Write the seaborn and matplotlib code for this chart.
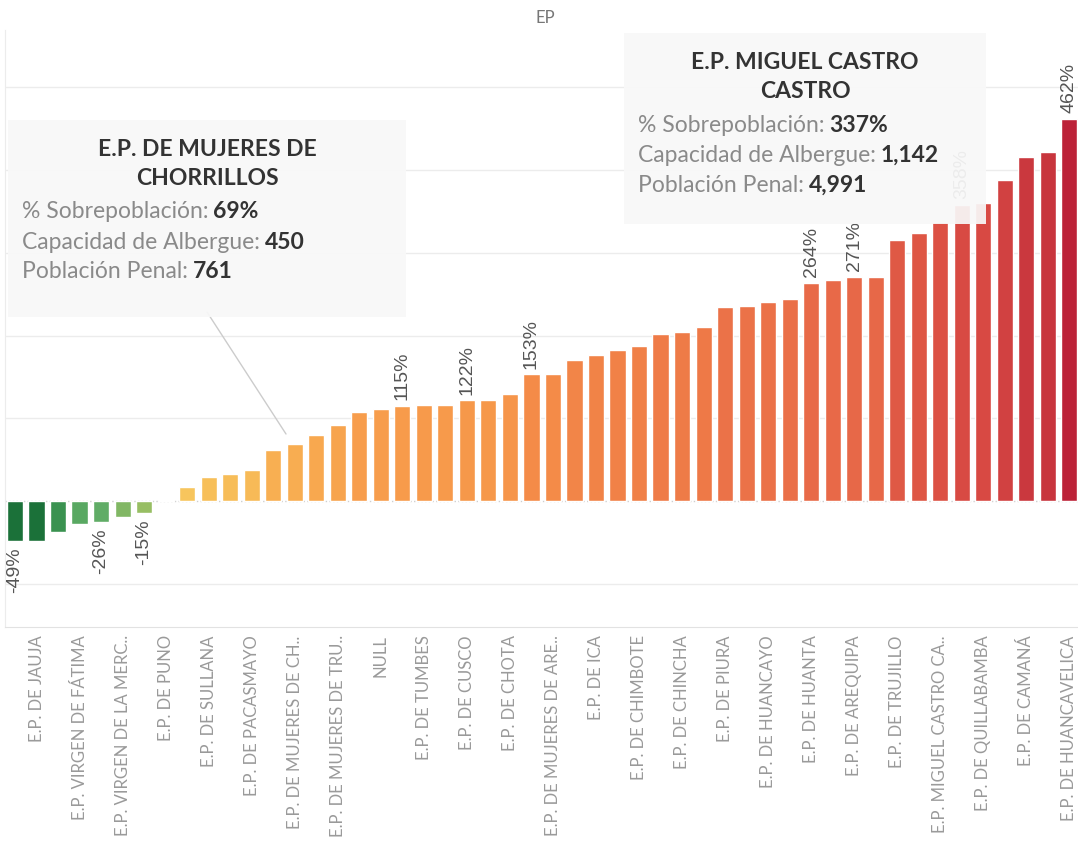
import numpy as np
import pandas as pd
import matplotlib
matplotlib.use('Agg')
import matplotlib.pyplot as plt
import seaborn as sns
from matplotlib.colors import LinearSegmentedColormap, Normalize
from matplotlib.patches import Rectangle

# ============================================================
# DATOS: % Sobrepoblacion por establecimiento penitenciario (ordenado)
# ============================================================
sobrepoblacion = [-49, -49, -38, -28, -26, -19, -15, 1, 17, 29,
                  33, 38, 62, 69, 80, 92, 108, 111, 115, 116,
                  116, 122, 122, 129, 153, 153, 171, 177, 182, 187,
                  202, 204, 210, 234, 236, 241, 244, 264, 267, 271,
                  271, 315, 324, 337, 358, 360, 388, 416, 422, 462]

# etiquetas visibles del eje x (una de cada dos barras)
etiquetas = ["E.P. DE JAUJA", "E.P. VIRGEN DE FÁTIMA", "E.P. VIRGEN DE LA MERC..",
             "E.P. DE PUNO", "E.P. DE SULLANA", "E.P. DE PACASMAYO",
             "E.P. DE MUJERES DE CH..", "E.P. DE MUJERES DE TRU..", "NULL",
             "E.P. DE TUMBES", "E.P. DE CUSCO", "E.P. DE CHOTA",
             "E.P. DE MUJERES DE ARE..", "E.P. DE ICA", "E.P. DE CHIMBOTE",
             "E.P. DE CHINCHA", "E.P. DE PIURA", "E.P. DE HUANCAYO",
             "E.P. DE HUANTA", "E.P. DE AREQUIPA", "E.P. DE TRUJILLO",
             "E.P. MIGUEL CASTRO CA..", "E.P. DE QUILLABAMBA", "E.P. DE CAMANÁ",
             "E.P. DE HUANCAVELICA"]

# barras con etiqueta de valor
barras_etiquetadas = [0, 4, 6, 18, 21, 24, 37, 39, 44, 49]

# tooltips
tip_nombres = ["E.P. DE MUJERES DE\nCHORRILLOS", "E.P. MIGUEL CASTRO\nCASTRO"]
tip_sobre = [69, 337]
tip_capacidad = [450, 1142]
tip_poblacion = [761, 4991]

W, H = 1078, 841

# escala de color divergente verde -> dorado -> rojo
nodos = [(-50, "#1b7139"), (-38, "#3a9250"), (-26, "#5fac66"), (-15, "#9cc063"),
         (0, "#f9d27a"), (17, "#f7c45c"), (60, "#f8b052"), (115, "#f79b4b"),
         (150, "#f48c48"), (200, "#ef7c47"), (265, "#e86a48"), (330, "#dd5444"),
         (360, "#d84a43"), (420, "#c9373e"), (462, "#bc2238")]
vmin, vmax = nodos[0][0], nodos[-1][0]
cmap = LinearSegmentedColormap.from_list(
    "rgg", [((v - vmin) / (vmax - vmin), c) for v, c in nodos])
norm = Normalize(vmin, vmax)

ids = [f"b{i}" for i in range(len(sobrepoblacion))]
df = pd.DataFrame({"id": ids, "valor": sobrepoblacion})
paleta = {k: cmap(norm(v)) for k, v in zip(ids, sobrepoblacion)}

sns.set_style("white")
plt.rcParams['font.family'] = ['Lato', 'DejaVu Sans']

fig = plt.figure(figsize=(W / 100, H / 100), dpi=100)
ax = fig.add_axes([5 / W, (H - 627) / H, (W - 5) / W, (627 - 30) / H])

sns.barplot(data=df, x="id", y="valor", hue="id", palette=paleta, legend=False,
            width=0.75, saturation=1, ax=ax, zorder=3)

ax.set_xlim(-0.465, 49.4)
ax.set_ylim(-152.4, 569.5)
ax.set_yticks([-100, 100, 200, 300, 400, 500])
ax.set_yticklabels([])
ax.grid(axis="y", color="#ececec", lw=1, zorder=0)
ax.axhline(0, color="#cfcfcf", ls=":", lw=1, zorder=2)
ax.tick_params(axis="both", length=0)
ax.set_xlabel("")
ax.set_ylabel("")

ax.set_xticks(range(1, 50, 2))
ax.set_xticklabels(etiquetas, rotation=90, ha="center", va="top",
                   color="#9a9a9a", fontsize=12)
ax.tick_params(axis="x", pad=6)

for s in ["top", "right"]:
    ax.spines[s].set_visible(False)
ax.spines["left"].set_color("#ececec")
ax.spines["bottom"].set_color("#e2e2e2")

# etiquetas de valor
for i in barras_etiquetadas:
    v = sobrepoblacion[i]
    ax.annotate(f"{v}%", (i, v), xytext=(0, 4 if v > 0 else -4),
                textcoords="offset points", rotation=90, ha="center",
                va="bottom" if v > 0 else "top", color="#555555",
                fontsize=14, family="Liberation Sans", zorder=4)

fig.text(545 / W, 1 - 18 / H, "EP", ha="center", va="center",
         color="#777777", fontsize=12)


def px(x, y):
    return x / W, 1 - y / H


# linea del tooltip de Chorrillos hacia su barra
fig.add_artist(plt.Line2D([207 / W, 286 / W], [1 - 312 / H, 1 - 434 / H],
                          color="#cccccc", lw=1, zorder=5))

cajas = [(8, 120, 406, 317), (624, 33, 986, 224)]
fig.canvas.draw()
renderer = fig.canvas.get_renderer()
for k, (x0, y0, x1, y1) in enumerate(cajas):
    fig.add_artist(Rectangle(px(x0, y1), (x1 - x0) / W, (y1 - y0) / H,
                             transform=fig.transFigure, facecolor="#f8f8f8",
                             edgecolor="none", alpha=0.93, zorder=10))
    xc = (x0 + x1) / 2
    fig.text(*px(xc, y0 + 44), tip_nombres[k], ha="center", va="center",
             fontsize=16.5, fontweight="bold", color="#333333",
             linespacing=1.45, zorder=11)
    filas = [("% Sobrepoblación: ", f"{tip_sobre[k]}%"),
             ("Capacidad de Albergue: ", f"{tip_capacidad[k]:,}"),
             ("Población Penal: ", f"{tip_poblacion[k]:,}")]
    for j, (lab, val) in enumerate(filas):
        yy = y0 + 92 + 30 * j
        t = fig.text(*px(x0 + 14, yy), lab.strip(), ha="left", va="center",
                     fontsize=16.5, color="#8a8a8a", zorder=11)
        bb = t.get_window_extent(renderer)
        fig.text(bb.x1 / W + 5 / W, 1 - yy / H, val, ha="left", va="center",
                 fontsize=16.5, fontweight="bold", color="#333333", zorder=11)

fig.savefig("out.png", dpi=100)
